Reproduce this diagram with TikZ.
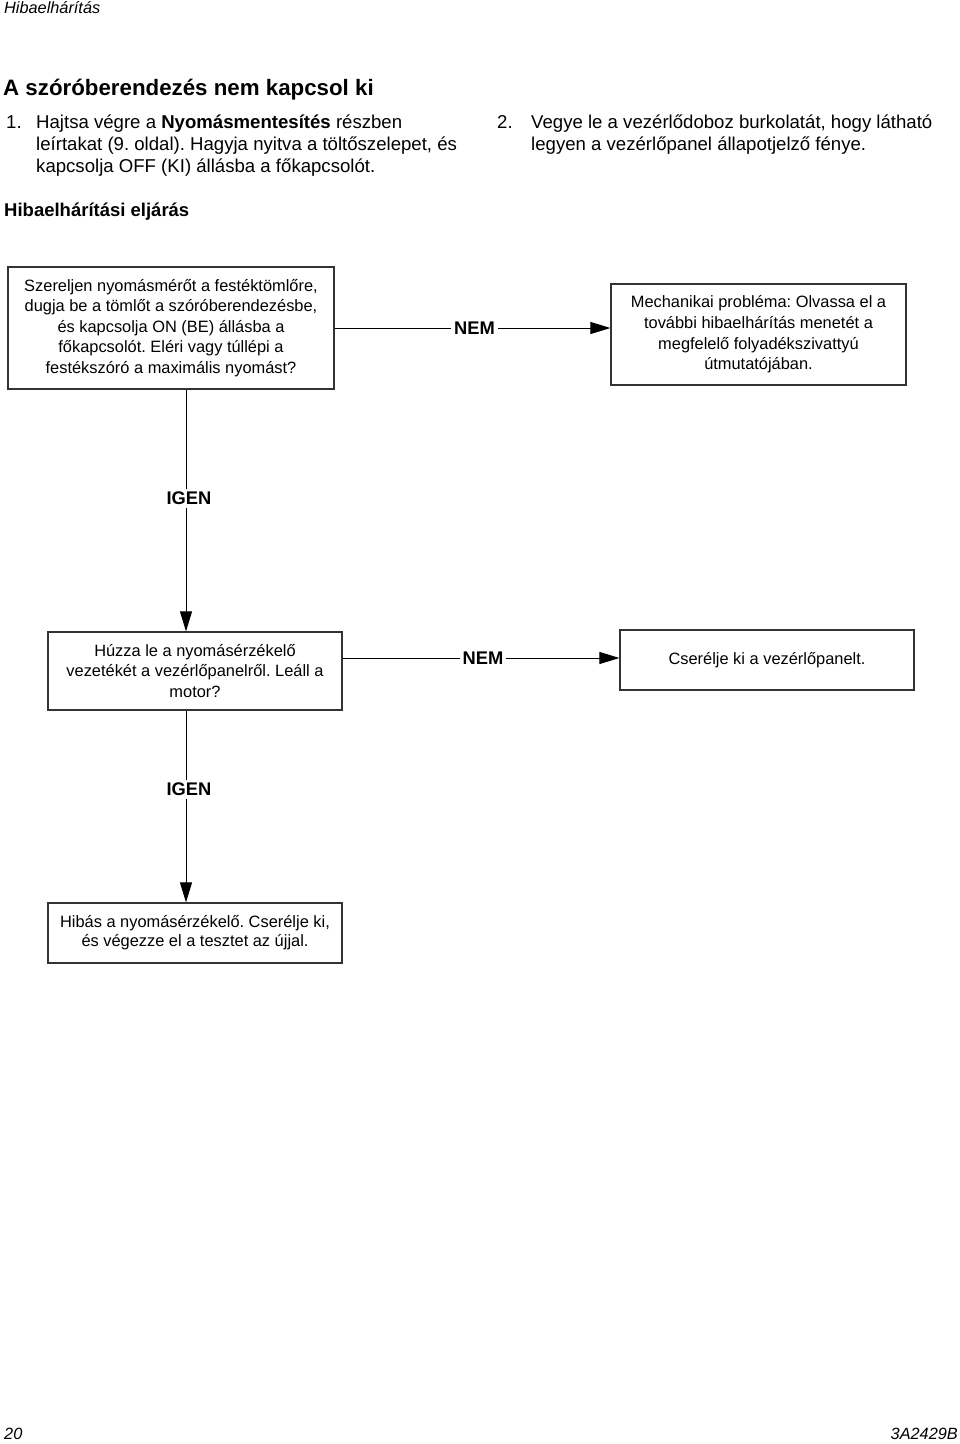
\documentclass[tikz,border=0pt]{standalone}
\usepackage{fontspec}
\setmainfont{Liberation Sans}
\usetikzlibrary{arrows.meta}
\frenchspacing
\begin{document}
\begin{tikzpicture}[x=1pt,y=-1pt,
  box/.style={draw=black!80, line width=1.2pt, inner sep=0pt, align=center, font=\fontsize{16.4}{20.6}\selectfont},
  conn/.style={draw=black, line width=1pt},
  arr/.style={conn, -{Triangle[length=20pt,width=12pt]}},
  lab/.style={fill=white, inner sep=3pt, font=\bfseries\fontsize{18.3}{22}\selectfont},
  body/.style={anchor=base west, inner sep=0pt, font=\fontsize{18.6}{22}\selectfont},
  foot/.style={inner sep=0pt, font=\itshape\fontsize{16.3}{20}\selectfont}]
\fill[white] (0,0) rectangle (960,1444);
\useasboundingbox (0,0) rectangle (960,1444);

\node[foot, anchor=base west] (hdr) at (4,13) {Hibaelhárítás};
\node[anchor=base west, inner sep=0pt, font=\bfseries\fontsize{22.3}{26}\selectfont] (title) at (3,95) {A szóróberendezés nem kapcsol ki};

\node[body] (n1) at (6,128) {1.};
\node[body] (t1a) at (36,128) {Hajtsa végre a \textbf{Nyomásmentesítés} részben};
\node[body] (t1b) at (36,150) {leírtakat (9. oldal). Hagyja nyitva a töltőszelepet, és};
\node[body] (t1c) at (36,172) {kapcsolja OFF (KI) állásba a főkapcsolót.};

\node[body] (n2) at (497,128) {2.};
\node[body] (t2a) at (531,128) {Vegye le a vezérlődoboz burkolatát, hogy látható};
\node[body] (t2b) at (531,150) {legyen a vezérlőpanel állapotjelző fénye.};

\node[anchor=base west, inner sep=0pt, font=\bfseries\fontsize{18.5}{22}\selectfont] (sub) at (4,216) {Hibaelhárítási eljárás};

\node[box, minimum width=326pt, minimum height=122pt] (b1) at (171,328) {Szereljen nyomásmérőt a festéktömlőre,\\dugja be a tömlőt a szóróberendezésbe,\\és kapcsolja ON (BE) állásba a\\főkapcsolót. Eléri vagy túllépi a\\festékszóró a maximális nyomást?};
\node[box, minimum width=295pt, minimum height=101pt] (b2) at (758.5,334.5) {Mechanikai probléma: Olvassa el a\\további hibaelhárítás menetét a\\megfelelő folyadékszivattyú\\útmutatójában.};
\node[box, minimum width=294pt, minimum height=78pt] (b3) at (195,671) {Húzza le a nyomásérzékelő\\vezetékét a vezérlőpanelről. Leáll a\\motor?};
\node[box, minimum width=294pt, minimum height=60pt] (b4) at (767,660) {\raisebox{3pt}{Cserélje ki a vezérlőpanelt.}};
\node[box, minimum width=294pt, minimum height=60pt] (b5) at (195,933) {\raisebox{3pt}{\begin{tabular}{@{}c@{}}Hibás a nyomásérzékelő. Cserélje ki,\\[-1.5pt]és végezze el a tesztet az újjal.\end{tabular}}};

\coordinate (col) at (186,0);
\coordinate (row2) at (0,658);
\draw[arr] (b1.east) -- node[lab, xshift=2pt]{NEM} (b1.east -| b2.west);
\draw[arr] (b1.south -| col) -- node[lab, pos=0.45, xshift=3pt]{IGEN} (b3.north -| col);
\draw[arr] (b3.east |- row2) -- node[lab, xshift=2pt]{NEM} (b4.west |- row2);
\draw[arr] (b3.south -| col) -- node[lab, pos=0.41, xshift=3pt]{IGEN} (b5.north -| col);

\node[foot, anchor=base west] (pg) at (4,1439) {20};
\node[foot, anchor=base east] (doc) at (958,1439) {3A2429B};
\end{tikzpicture}
\end{document}
